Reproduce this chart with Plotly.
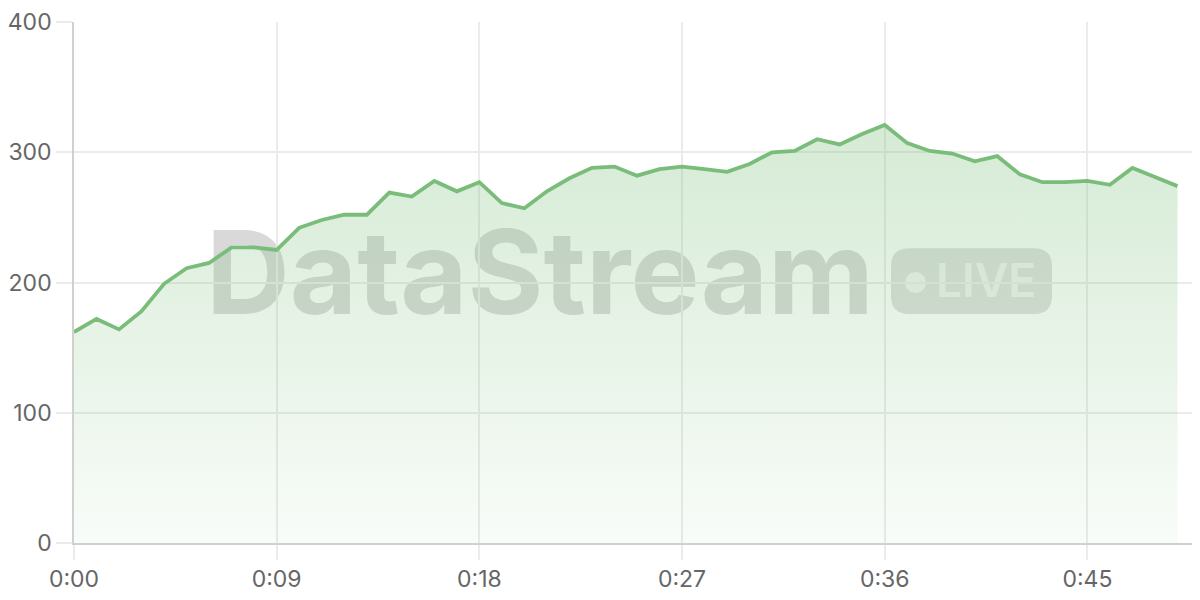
import plotly.graph_objects as go

# one reading per second
seconds = list(range(50))
values = [162, 172, 164, 178, 199, 211, 215, 227, 227, 225,
          242, 248, 252, 252, 269, 266, 278, 270, 277, 261,
          257, 270, 280, 288, 289, 282, 287, 289, 287, 285,
          291, 300, 301, 310, 306, 314, 321, 307, 301, 299,
          293, 297, 283, 277, 277, 278, 275, 288, 281, 274]

tick_secs = [0, 9, 18, 27, 36, 45]
tick_text = ["0:00", "0:09", "0:18", "0:27", "0:36", "0:45"]
y_ticks = [0, 100, 200, 300, 400]

green = "rgb(122,189,122)"
grid = "#ebebeb"
font_fam = "Inter, Liberation Sans, Arial, sans-serif"

# page body has an 8px margin, so the figure is shifted by that much
W, H = 1192, 592
L, T, B = 66, 12, 57
pw, ph = W - L, H - T - B


def px(x):
    return (x - 8 - L) / pw


def py(y):
    return 1 - (y - 8 - T) / ph


fig = go.Figure()
fig.add_trace(go.Scatter(
    x=seconds, y=values, mode="lines",
    line=dict(color=green, width=3.8),
    fill="tozeroy",
    fillgradient=dict(type="vertical",
                      colorscale=[[0, "rgba(124,191,124,0.05)"],
                                  [1, "rgba(124,191,124,0.32)"]]),
    hoverinfo="skip", showlegend=False,
))

# watermark, drawn between grid and traces
wm = "rgba(120,120,120,0.28)"
fig.add_shape(type="rect", xref="paper", yref="paper", layer="between",
              x0=px(209), x1=px(871), y0=py(317), y1=py(217),
              line=dict(width=0), fillcolor="rgba(0,0,0,0)",
              label=dict(text="<b>DataStream</b>", textposition="middle center",
                         font=dict(family=font_fam, size=116, color=wm)))

# LIVE pill, rounded rect in paper coords
x0, x1, y0, y1 = px(891), px(1052), py(313), py(247)
rx, ry = 18 / pw, 18 / ph
path = (f"M {x0+rx},{y0} L {x1-rx},{y0} Q {x1},{y0} {x1},{y0+ry} "
        f"L {x1},{y1-ry} Q {x1},{y1} {x1-rx},{y1} L {x0+rx},{y1} "
        f"Q {x0},{y1} {x0},{y1-ry} L {x0},{y0+ry} Q {x0},{y0} {x0+rx},{y0} Z")
fig.add_shape(type="path", xref="paper", yref="paper", layer="between",
              path=path, fillcolor="rgba(120,120,120,0.24)", line=dict(width=0))
fig.add_shape(type="circle", xref="paper", yref="paper", layer="between",
              x0=px(905), x1=px(926), y0=py(292), y1=py(271),
              fillcolor="rgba(255,255,255,0.62)", line=dict(width=0))
fig.add_shape(type="rect", xref="paper", yref="paper", layer="between",
              x0=px(936), x1=px(1036), y0=py(302), y1=py(254),
              line=dict(width=0), fillcolor="rgba(0,0,0,0)",
              label=dict(text="LIVE", textposition="middle center",
                         font=dict(family=font_fam, size=46, weight=600,
                                   color="rgba(255,255,255,0.62)")))

fig.update_layout(
    width=W, height=H,
    margin=dict(l=L, r=0, t=T, b=B),
    paper_bgcolor="white", plot_bgcolor="white",
    font=dict(family=font_fam, size=23, color="#666"),
    xaxis=dict(range=[0, 50], tickvals=tick_secs, ticktext=tick_text,
               showgrid=True, gridcolor=grid, gridwidth=1.5,
               ticks="outside", ticklen=15, tickcolor=grid, tickwidth=1.5,
               showline=True, linecolor="#d0d0d0", linewidth=1.5,
               zeroline=False, fixedrange=True, ticklabeloverflow="allow"),
    yaxis=dict(range=[0, 400], tickvals=y_ticks,
               showgrid=True, gridcolor=grid, gridwidth=1.5,
               ticks="outside", ticklen=16, tickcolor=grid, tickwidth=1.5,
               showline=True, linecolor="#d0d0d0", linewidth=1.5,
               zeroline=False, fixedrange=True, ticklabeloverflow="allow"),
)

fig.write_html("out.html")
